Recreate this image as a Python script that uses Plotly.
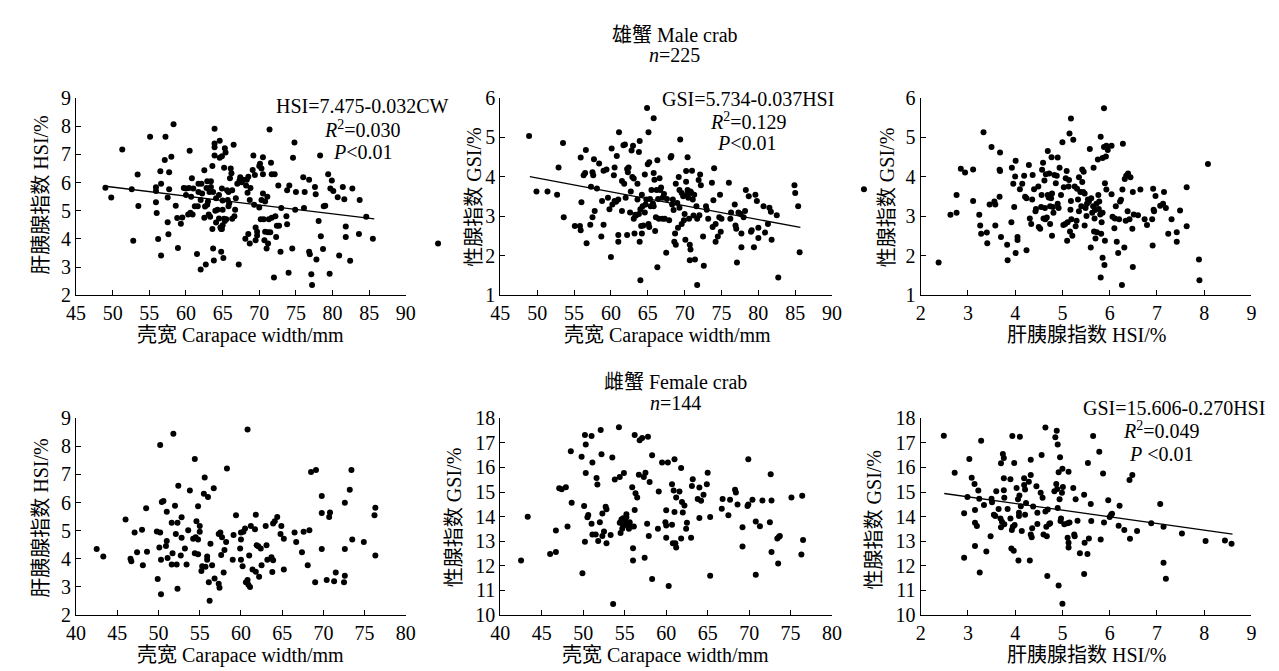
import plotly.graph_objects as go

# ---------------- DATA ----------------
# Panel A: male, carapace width vs HSI
male_cw_a = [49.0,49.8,51.3,52.6,52.8,53.4,53.5,55.1,55.9,55.9,55.9,56.0,56.2,56.5,56.6,56.6,57.1,57.2,57.5,57.5,57.6,57.7,57.7,58.0,58.3,58.6,58.8,58.9,59.3,59.5,59.7,60.0,60.0,60.3,60.4,60.5,60.6,60.7,60.8,60.9,61.0,61.2,61.5,61.6,61.7,61.7,62.0,62.0,62.1,62.2,62.5,62.5,62.6,62.7,62.8,62.9,62.9,63.0,63.1,63.2,63.3,63.4,63.4,63.6,63.6,63.7,63.7,63.8,63.9,63.9,63.9,63.9,64.0,64.1,64.1,64.3,64.5,64.5,64.6,64.6,64.7,64.8,64.8,64.9,64.9,64.9,65.0,65.0,65.0,65.1,65.2,65.2,65.3,65.3,65.4,65.5,65.6,65.7,65.8,65.8,65.9,66.0,66.1,66.2,66.3,66.3,66.5,66.6,66.7,66.8,67.0,67.2,67.3,67.4,67.6,67.8,68.1,68.2,68.3,68.4,68.5,68.5,68.7,68.8,68.7,69.1,69.2,69.3,69.4,69.5,69.5,69.7,69.7,70.0,70.0,70.1,70.2,70.3,70.3,70.5,70.5,70.5,70.6,70.7,70.8,70.8,71.0,71.1,71.2,71.2,71.3,71.4,71.5,71.6,71.7,71.7,72.0,72.1,72.2,72.3,72.4,72.6,72.7,72.9,73.0,73.7,73.8,73.8,74.0,74.1,74.5,74.6,74.8,74.9,75.0,76.0,76.1,76.2,76.8,76.8,76.9,77.1,77.2,77.6,77.7,77.8,78.1,78.3,78.4,78.7,78.8,79.0,79.4,79.6,79.7,79.9,80.1,80.7,80.9,81.4,81.6,81.8,81.8,82.4,82.7,83.6,83.7,84.6,85.5,94.4]
male_hsi_a = [5.82,5.47,7.17,5.76,3.94,6.29,5.17,7.63,5.83,5.70,5.30,4.92,4.00,6.40,5.96,3.41,6.80,7.63,5.47,4.59,4.17,6.37,5.76,6.92,8.07,5.18,4.74,3.68,4.54,4.76,5.81,5.79,5.56,4.87,5.81,7.13,4.93,5.50,6.15,4.87,5.79,5.16,3.47,5.16,5.67,5.96,2.92,5.38,5.96,5.61,6.44,4.75,5.15,3.09,5.81,6.05,5.21,5.33,4.87,5.67,4.79,6.05,5.84,4.35,6.59,3.66,5.67,3.24,7.39,7.25,7.91,6.96,5.00,4.58,5.44,5.04,5.56,4.73,6.88,7.48,4.41,4.35,3.55,6.93,5.79,4.35,5.04,5.36,4.49,3.32,6.53,4.72,4.64,7.22,7.07,4.70,5.73,5.38,5.16,5.67,5.27,6.15,6.50,6.33,5.73,4.72,7.34,4.81,5.04,5.44,5.96,3.09,6.07,6.19,6.01,6.10,4.01,5.90,6.10,5.64,6.21,4.18,5.38,5.81,3.84,6.45,6.96,5.21,6.27,4.41,3.95,4.26,4.12,6.59,5.12,6.67,4.70,5.38,6.50,6.90,5.61,6.30,4.70,3.95,5.33,4.26,3.66,5.50,3.84,4.24,4.70,7.88,4.24,6.70,6.30,4.75,2.63,6.30,4.81,4.07,4.47,5.90,4.47,3.55,5.10,4.81,4.52,5.73,2.80,5.90,3.66,6.88,7.42,5.04,5.67,6.19,5.10,5.67,6.10,3.55,3.46,2.75,2.37,5.84,5.59,3.27,4.64,6.96,4.10,3.64,5.16,5.18,6.30,2.77,5.79,6.07,5.70,5.48,3.41,5.84,5.41,4.44,4.07,3.23,5.79,4.18,5.38,4.79,4.01,3.84]
fit_a_x = [49.0, 85.7]
fit_a_y = [5.87, 4.71]

# Panel B: male, carapace width vs GSI
male_cw_b = [48.9,49.9,51.4,52.7,52.9,53.5,53.6,55.1,55.8,55.9,55.9,56.0,56.3,56.5,56.6,56.7,57.2,57.3,57.5,57.5,57.6,57.7,57.8,58.1,58.4,58.7,58.8,59.0,59.0,59.4,59.6,59.8,60.0,60.1,60.2,60.4,60.5,60.5,60.7,60.8,61.0,61.0,61.0,61.1,61.5,61.5,61.7,61.8,61.9,62.0,62.2,62.2,62.3,62.4,62.6,62.7,62.8,62.9,63.0,63.1,63.1,63.2,63.3,63.4,63.6,63.6,63.8,63.8,63.9,63.9,64.0,64.0,64.1,64.2,64.2,64.3,64.4,64.6,64.6,64.7,64.8,64.9,65.0,65.1,65.1,65.2,65.2,65.3,65.4,65.5,65.7,65.8,65.8,65.8,65.9,66.0,66.1,66.2,66.3,66.3,66.4,66.5,66.6,66.7,66.8,67.0,67.0,67.2,67.3,67.5,67.6,67.9,68.1,68.2,68.3,68.4,68.5,68.6,68.7,68.8,68.8,69.0,69.1,69.2,69.3,69.3,69.4,69.6,69.6,69.8,69.9,70.0,70.1,70.2,70.2,70.3,70.4,70.4,70.5,70.6,70.7,70.7,70.8,70.8,70.9,71.0,71.1,71.2,71.3,71.4,71.6,71.7,71.7,71.9,72.0,72.1,72.2,72.5,72.6,72.9,73.0,73.2,73.7,73.8,73.9,74.0,74.2,74.2,74.5,74.7,74.8,74.9,75.0,76.0,76.2,76.3,76.8,76.9,77.0,77.1,77.3,77.6,77.7,77.7,78.0,78.2,78.3,78.7,79.0,79.1,79.4,79.6,79.8,80.0,80.0,80.7,80.9,81.3,81.5,81.7,81.8,82.5,82.7,84.9,85.0,85.4,85.6]
male_gsi_b = [5.04,3.63,3.63,3.55,4.24,4.86,2.98,2.76,2.76,2.65,4.49,3.36,4.04,4.10,4.68,2.32,2.79,3.75,4.12,2.98,4.04,4.45,3.14,3.71,4.34,2.49,3.39,2.79,4.16,4.19,3.47,3.18,1.97,4.72,3.30,4.04,4.24,3.39,3.37,4.53,3.43,2.36,2.53,5.13,3.14,3.90,4.80,3.83,4.82,3.47,4.20,2.53,4.12,4.24,3.10,3.63,4.67,4.00,4.79,3.96,2.94,2.57,3.04,3.02,3.43,3.83,3.06,4.63,4.91,2.36,1.38,3.18,2.76,3.55,2.57,3.26,2.77,4.06,3.10,3.30,3.43,5.75,4.32,2.81,5.13,2.73,4.37,3.44,3.26,3.67,3.33,3.26,4.10,5.49,3.93,2.63,2.98,3.67,1.71,4.42,3.44,2.94,3.97,3.67,3.73,2.94,3.47,3.57,2.94,2.08,3.44,2.90,4.49,4.53,3.30,3.43,3.16,2.36,2.57,3.83,2.28,3.34,2.71,4.00,3.67,3.22,4.95,3.59,2.81,3.51,2.90,3.06,2.41,4.15,3.88,3.55,3.67,4.50,3.47,2.94,2.28,1.89,3.63,2.16,3.59,4.16,3.43,3.02,3.55,1.91,3.26,2.94,1.26,3.92,3.03,4.06,3.79,2.49,1.75,3.26,3.17,2.94,3.85,2.73,3.41,4.22,2.81,2.36,2.49,2.98,3.55,2.61,2.94,3.85,2.94,3.10,3.30,2.77,2.69,1.83,3.10,3.06,2.22,2.57,2.98,3.14,3.67,3.51,2.61,2.65,2.22,3.55,3.39,2.45,2.71,3.26,2.59,2.81,3.22,3.12,2.41,3.03,1.45,3.79,3.59,3.26,2.09]
fit_b_x = [49.0, 85.7]
fit_b_y = [4.01, 2.72]

# Panel C: male, HSI vs GSI
male_hsi_c = [0.80,2.38,2.63,2.76,2.76,2.85,2.94,3.11,3.11,3.24,3.26,3.28,3.33,3.40,3.41,3.46,3.50,3.56,3.58,3.58,3.67,3.67,3.68,3.68,3.70,3.83,3.84,3.92,3.93,3.96,3.98,4.00,4.01,4.01,4.05,4.05,4.10,4.15,4.19,4.21,4.24,4.24,4.29,4.31,4.34,4.36,4.37,4.40,4.43,4.44,4.49,4.50,4.53,4.55,4.56,4.57,4.59,4.60,4.62,4.63,4.64,4.65,4.67,4.69,4.69,4.71,4.72,4.74,4.74,4.76,4.77,4.78,4.78,4.80,4.81,4.83,4.86,4.88,4.90,4.90,4.92,4.94,4.97,5.00,5.02,5.03,5.06,5.07,5.09,5.10,5.11,5.13,5.14,5.15,5.16,5.17,5.18,5.18,5.19,5.21,5.23,5.26,5.28,5.30,5.31,5.33,5.35,5.35,5.38,5.40,5.42,5.42,5.44,5.45,5.47,5.47,5.49,5.51,5.52,5.54,5.56,5.58,5.60,5.61,5.63,5.65,5.66,5.67,5.68,5.69,5.70,5.72,5.73,5.75,5.76,5.77,5.78,5.80,5.81,5.81,5.82,5.83,5.85,5.85,5.85,5.88,5.88,5.89,5.90,5.90,5.92,5.93,5.93,5.96,6.04,6.04,6.06,6.10,6.11,6.13,6.15,6.18,6.20,6.22,6.24,6.26,6.27,6.28,6.31,6.32,6.34,6.35,6.38,6.39,6.42,6.44,6.48,6.49,6.49,6.51,6.60,6.65,6.74,6.79,6.90,6.91,6.92,6.93,6.94,6.97,7.07,7.13,7.15,7.19,7.24,7.31,7.42,7.42,7.49,7.63,7.63,7.89,7.90,8.08]
male_gsi_c = [3.69,1.83,3.04,3.09,3.54,4.21,4.11,4.19,3.39,3.04,2.77,2.56,5.13,2.59,2.32,3.30,4.76,3.38,3.30,2.77,3.50,4.18,4.15,4.62,2.48,2.28,1.89,2.85,4.23,3.83,3.24,4.01,4.41,2.07,2.48,2.40,3.69,3.83,4.03,3.50,3.46,2.14,4.30,2.95,2.81,3.43,4.05,3.69,3.13,3.19,3.76,2.73,2.69,3.24,3.54,4.18,4.36,2.95,3.91,3.21,2.93,4.07,2.97,4.66,3.54,3.48,4.09,3.26,2.81,3.46,4.50,3.58,2.51,3.24,3.09,4.05,3.84,4.03,4.49,3.32,3.21,4.23,3.54,4.88,2.78,3.74,2.81,3.97,4.15,2.38,2.85,3.76,3.92,5.10,2.62,3.17,5.48,3.39,2.93,2.51,4.94,3.76,2.75,2.89,3.70,3.43,3.99,3.13,3.62,3.26,4.19,3.87,3.62,4.13,3.58,2.77,3.21,3.01,3.32,3.43,3.38,4.71,2.21,3.46,3.09,3.26,4.23,2.62,2.95,3.16,2.44,3.32,2.60,4.44,3.54,3.19,3.38,3.05,1.45,5.02,2.56,2.85,3.09,1.95,4.48,5.74,4.76,1.77,3.84,2.38,4.52,3.68,4.79,4.68,4.79,3.56,2.99,2.70,2.95,3.26,2.36,2.07,2.93,3.38,3.42,1.26,3.68,4.84,2.21,3.95,2.89,4.03,3.13,4.09,2.93,3.99,2.69,1.72,3.62,3.05,3.03,3.68,2.93,2.78,2.93,2.26,3.70,3.17,3.13,3.52,3.27,3.32,3.62,3.21,2.56,2.93,2.60,2.36,3.15,3.74,2.75,1.91,1.38,4.33]

# Panel D: female, carapace width vs HSI
fem_cw_d = [42.5,43.3,46.0,46.6,46.7,47.1,47.4,48.0,48.1,48.5,48.6,49.8,49.9,50.1,50.2,50.2,50.3,50.3,50.4,50.6,50.9,51.0,51.0,51.1,51.6,51.6,51.7,51.8,52.0,52.1,52.2,52.3,52.3,52.4,52.7,52.8,52.8,53.2,53.4,53.6,53.8,54.2,54.4,54.4,54.5,54.6,54.8,54.8,54.8,55.0,55.0,55.2,55.3,55.5,55.6,55.7,55.9,55.9,56.0,56.1,56.2,56.3,56.5,56.7,56.8,57.3,57.4,57.3,57.5,57.6,57.7,57.9,58.0,58.2,58.3,59.0,59.1,59.4,59.9,60.0,60.0,60.0,60.2,60.3,60.5,60.6,60.8,60.8,60.9,61.0,61.1,61.2,61.4,61.7,61.8,61.8,61.9,62.1,62.2,62.4,62.5,63.0,63.1,63.2,63.7,63.8,63.9,63.9,64.1,64.4,64.8,64.9,65.2,65.2,66.5,66.7,67.4,67.6,68.1,68.3,68.5,69.0,69.1,69.8,69.8,69.8,70.4,70.7,70.8,71.3,71.5,72.5,72.6,72.6,72.6,73.2,73.4,73.5,74.9,76.2,76.3,76.3]
fem_hsi_d = [4.35,4.08,5.40,4.00,3.91,4.94,4.23,5.03,3.77,5.80,4.25,4.97,3.28,4.40,8.05,4.94,3.97,2.74,6.02,6.06,4.46,4.63,5.67,4.03,5.28,3.80,4.20,8.45,5.89,4.88,3.80,5.28,2.94,6.60,4.12,5.48,4.75,4.37,3.80,5.02,6.43,4.71,4.20,7.55,4.77,5.34,4.16,5.87,4.69,4.96,5.17,3.57,3.74,6.31,6.89,3.72,4.08,3.97,6.20,3.17,2.51,4.54,3.77,6.51,3.30,3.11,2.97,4.88,4.94,4.14,4.77,3.51,4.31,4.60,7.21,3.97,4.85,5.55,4.37,4.94,3.97,4.69,3.74,4.96,5.08,3.17,8.60,3.25,3.08,4.12,3.00,5.17,3.62,5.05,5.57,3.54,4.48,4.45,3.36,4.37,3.77,5.17,4.48,3.97,4.06,3.53,3.95,5.26,5.34,5.49,4.88,5.17,4.71,3.62,4.94,4.60,4.23,4.96,3.77,5.02,7.09,3.17,7.16,6.23,4.35,5.63,3.25,5.49,5.65,3.20,3.51,3.17,4.35,3.40,5.99,6.46,7.16,4.69,4.60,5.55,5.82,4.12]

# Panel E: female, carapace width vs GSI
fem_cw_e = [42.5,43.3,46.0,46.7,46.7,47.1,47.4,47.9,48.1,48.5,48.6,49.8,49.9,50.1,50.2,50.2,50.3,50.3,50.5,50.6,51.0,51.0,51.1,51.1,51.5,51.6,51.7,51.8,52.0,52.1,52.2,52.3,52.3,52.5,52.7,52.8,52.8,53.3,53.5,53.6,53.8,54.3,54.4,54.4,54.5,54.6,54.7,54.8,54.8,54.9,55.0,55.0,55.2,55.2,55.4,55.5,55.6,55.8,55.9,56.0,56.0,56.1,56.2,56.2,56.3,56.5,56.7,56.8,57.1,57.3,57.4,57.5,57.7,57.8,57.9,58.0,58.3,58.3,59.0,59.1,59.5,59.9,60.0,60.0,60.0,60.2,60.3,60.7,60.7,60.8,60.9,61.0,61.0,61.1,61.2,61.2,61.6,61.8,61.8,61.9,62.0,62.2,62.4,62.5,63.0,63.1,63.2,63.8,64.0,64.0,64.2,64.5,64.9,65.0,65.3,65.3,66.7,66.8,67.5,67.7,68.3,68.4,68.6,69.2,69.2,69.8,69.9,69.9,70.4,70.8,70.8,71.3,71.6,72.5,72.6,72.7,72.7,73.4,73.5,73.6,73.7,75.1,76.3,76.4,76.5]
fem_gsi_e = [12.22,14.00,12.48,12.56,13.44,15.15,15.11,15.19,13.60,16.66,14.56,16.43,11.70,14.43,17.32,12.98,16.93,15.77,13.97,14.07,13.71,17.28,16.20,13.27,13.27,15.57,15.31,13.01,13.77,17.52,16.53,13.21,14.13,13.40,14.40,12.92,14.30,13.25,16.40,10.45,15.51,17.63,15.61,13.75,13.34,13.88,13.51,13.93,13.61,15.77,13.84,13.71,13.97,14.10,13.64,13.51,13.77,13.60,15.19,12.72,12.22,13.60,14.27,17.32,14.95,14.78,15.70,17.10,17.19,15.61,12.33,15.78,13.71,17.25,13.21,15.41,16.49,11.47,13.51,15.02,16.20,13.77,13.14,14.26,13.64,16.20,11.18,15.32,13.67,12.92,15.06,16.33,14.19,12.92,14.78,12.75,15.02,15.98,13.11,14.59,14.17,14.45,13.51,13.75,13.14,15.24,15.52,14.72,15.18,13.94,14.65,14.89,15.32,15.78,13.99,11.60,14.32,14.72,14.06,14.69,15.09,14.98,14.49,13.57,12.79,14.43,14.49,16.33,14.69,11.64,13.80,13.61,14.66,13.77,15.72,12.56,14.66,13.11,12.10,13.18,13.21,14.78,12.46,14.85,13.05]

# Panel F: female, HSI vs GSI
fem_hsi_f = [2.49,2.72,2.92,2.92,2.99,3.03,3.08,3.14,3.15,3.15,3.15,3.19,3.22,3.24,3.25,3.28,3.34,3.39,3.48,3.50,3.51,3.55,3.58,3.60,3.65,3.69,3.70,3.70,3.72,3.74,3.76,3.76,3.76,3.77,3.77,3.84,3.90,3.90,3.92,3.93,3.94,3.95,3.97,3.98,3.99,4.03,4.06,4.07,4.08,4.08,4.09,4.10,4.12,4.14,4.19,4.19,4.21,4.21,4.23,4.29,4.31,4.33,4.33,4.33,4.35,4.36,4.38,4.45,4.47,4.47,4.54,4.56,4.58,4.60,4.64,4.64,4.66,4.67,4.68,4.69,4.72,4.74,4.83,4.85,4.87,4.88,4.89,4.90,4.90,4.92,4.92,4.94,4.95,4.96,4.97,4.99,5.00,5.00,5.01,5.04,5.11,5.11,5.13,5.13,5.13,5.15,5.23,5.25,5.26,5.28,5.32,5.37,5.46,5.46,5.47,5.53,5.54,5.56,5.60,5.61,5.65,5.78,5.81,5.86,5.88,5.97,6.00,6.03,6.05,6.19,6.21,6.31,6.43,6.42,6.48,6.58,6.88,7.07,7.14,7.14,7.19,7.53,8.03,8.44,8.58]
fem_gsi_f = [17.29,15.78,14.14,12.33,14.80,16.34,15.58,15.33,14.27,12.81,13.75,13.62,15.06,14.73,11.73,17.08,14.47,12.58,13.20,14.73,14.58,14.08,14.03,15.03,14.31,13.92,16.17,13.57,13.79,16.54,16.38,15.07,15.56,14.77,13.69,14.31,15.52,13.92,12.71,13.46,17.28,13.59,12.61,16.18,13.66,15.16,14.71,12.22,14.03,14.16,14.86,17.25,14.42,13.42,15.56,15.29,15.10,14.08,14.55,15.42,12.22,16.31,15.69,13.27,13.16,13.53,14.41,15.23,14.16,13.70,14.97,16.50,14.77,13.27,17.62,14.21,13.59,13.20,11.59,14.29,13.70,13.73,15.03,17.22,15.33,17.49,15.12,16.93,14.35,15.80,11.20,14.71,16.41,13.82,13.92,14.97,15.95,10.46,15.20,13.69,13.73,13.14,12.94,12.75,15.82,13.76,15.16,13.27,13.20,14.71,13.83,12.51,14.89,11.67,12.94,12.48,16.18,13.11,14.51,13.82,17.28,16.64,13.07,15.75,13.76,14.67,13.99,14.08,14.12,13.63,14.44,13.46,13.10,15.49,15.69,13.42,13.73,14.51,13.59,12.13,11.48,13.31,13.01,13.03,12.90]
fit_f_x = [2.5, 8.6]
fit_f_y = [14.94, 13.29]

# ---------------- LAYOUT ----------------
W, H = 1279, 671
FONT = "Liberation Serif, Times New Roman, Noto Sans CJK SC, serif"

def px(x):
    return x / W

def py(y):
    return 1 - y / H

# plot-area pixel boxes (left, right) and (bottom, top)
xpix = [(59, 394), (490, 827), (917, 1253)]
ypix_top = (285.7, 81.7)
ypix_bot = (616.3, 412.7)

fig = go.Figure()

panels = [
    (male_cw_a, male_hsi_a, [45, 90], 5, [2, 9], xpix[0], ypix_top),
    (male_cw_b, male_gsi_b, [45, 90], 5, [1, 6], xpix[1], ypix_top),
    (male_hsi_c, male_gsi_c, [2, 9], 1, [1, 6], xpix[2], ypix_top),
    (fem_cw_d, fem_hsi_d, [40, 80], 5, [2, 9], xpix[0], ypix_bot),
    (fem_cw_e, fem_gsi_e, [40, 80], 5, [10, 18], xpix[1], ypix_bot),
    (fem_hsi_f, fem_gsi_f, [2, 9], 1, [10, 18], xpix[2], ypix_bot),
]

axis_common = dict(
    showline=True, linecolor="black", linewidth=1.3, mirror=False,
    ticks="inside", ticklen=5, tickwidth=1.3, tickcolor="black",
    showgrid=False, zeroline=False,
    tickfont=dict(family=FONT, size=20, color="black"),
)
hidden_axis = dict(visible=False, showgrid=False, zeroline=False, fixedrange=True)

layout_axes = {}
n_panels = len(panels)
for i, (xs, ys, xr, xd, yr, xp, yp) in enumerate(panels, start=1):
    sfx = "" if i == 1 else str(i)
    xdom = [px(xp[0]), px(xp[1])]
    ydom = [py(yp[0]), py(yp[1])]
    inside = [(a, b) for a, b in zip(xs, ys) if xr[0] <= a <= xr[1]]
    outside = [(a, b) for a, b in zip(xs, ys) if not (xr[0] <= a <= xr[1])]
    fig.add_trace(go.Scatter(
        x=[p[0] for p in inside], y=[p[1] for p in inside], mode="markers",
        marker=dict(color="black", size=6),
        xaxis="x" + sfx, yaxis="y" + sfx, showlegend=False,
    ))
    layout_axes["xaxis" + sfx] = dict(axis_common, range=xr, tick0=xr[0], dtick=xd,
                                      domain=xdom, anchor="y" + sfx)
    layout_axes["yaxis" + sfx] = dict(axis_common, range=yr, tick0=yr[0], dtick=1,
                                      domain=ydom, anchor="x" + sfx)
    if outside:
        # hidden overlay axis with the same scale but a wider span, for marks beyond the frame
        k = str(n_panels + i)
        scale = (xp[1] - xp[0]) / (xr[1] - xr[0])
        lo = min(xr[0], min(p[0] for p in outside) - 1)
        hi = max(xr[1], max(p[0] for p in outside) + 1)
        left_px = xp[0] - (xr[0] - lo) * scale
        right_px = xp[1] + (hi - xr[1]) * scale
        fig.add_trace(go.Scatter(
            x=[p[0] for p in outside], y=[p[1] for p in outside], mode="markers",
            marker=dict(color="black", size=6),
            xaxis="x" + k, yaxis="y" + k, showlegend=False,
        ))
        layout_axes["xaxis" + k] = dict(hidden_axis, range=[lo, hi],
                                        domain=[px(left_px), px(right_px)], anchor="y" + k)
        layout_axes["yaxis" + k] = dict(hidden_axis, range=yr, domain=ydom, anchor="x" + k)

for fx, fy, sfx in [(fit_a_x, fit_a_y, ""), (fit_b_x, fit_b_y, "2"), (fit_f_x, fit_f_y, "6")]:
    fig.add_trace(go.Scatter(
        x=fx, y=fy, mode="lines", line=dict(color="black", width=1.3),
        xaxis="x" + sfx, yaxis="y" + sfx, showlegend=False,
    ))

def ann(text, x, y, angle=0, size=20):
    return dict(text=text, x=px(x), y=py(y), xref="paper", yref="paper",
                xanchor="center", yanchor="middle", showarrow=False,
                textangle=angle, font=dict(family=FONT, size=size, color="black"))

annotations = [
    ann("雄蟹 Male crab", 667, 17),
    ann("<i>n</i>=225", 667, 37),
    ann("雌蟹 Female crab", 668, 375),
    ann("<i>n</i>=144", 668, 397),
    # x-axis titles
    ann("壳宽 Carapace width/mm", 226, 327),
    ann("壳宽 Carapace width/mm", 660, 327),
    ann("肝胰腺指数 HSI/%", 1085, 327),
    ann("壳宽 Carapace width/mm", 226, 658),
    ann("壳宽 Carapace width/mm", 658, 658),
    ann("肝胰腺指数 HSI/%", 1085, 658),
    # y-axis titles
    ann("肝胰腺指数 HSI/%", 23, 182, -90),
    ann("性腺指数 GSI/%", 463, 184, -90),
    ann("性腺指数 GSI/%", 883, 185, -90),
    ann("肝胰腺指数 HSI/%", 23, 516, -90),
    ann("性腺指数 GSI/%", 443, 516, -90),
    ann("性腺指数 GSI/%", 870, 518, -90),
    # equations
    ann("HSI=7.475-0.032CW", 350, 90),
    ann("<i>R</i><sup>2</sup>=0.030", 350, 114),
    ann("<i>P</i>&lt;0.01", 350, 138),
    ann("GSI=5.734-0.037HSI", 742, 83),
    ann("<i>R</i><sup>2</sup>=0.129", 742, 105),
    ann("<i>P</i>&lt;0.01", 741, 128),
    ann("GSI=15.606-0.270HSI", 1174, 402),
    ann("<i>R</i><sup>2</sup>=0.049", 1162, 425),
    ann("<i>P</i> &lt;0.01", 1162, 450),
]

fig.update_layout(
    width=W, height=H,
    margin=dict(l=0, r=0, t=0, b=0),
    paper_bgcolor="white", plot_bgcolor="rgba(0,0,0,0)",
    annotations=annotations,
    showlegend=False,
    **layout_axes,
)

fig.write_html("out.html")
